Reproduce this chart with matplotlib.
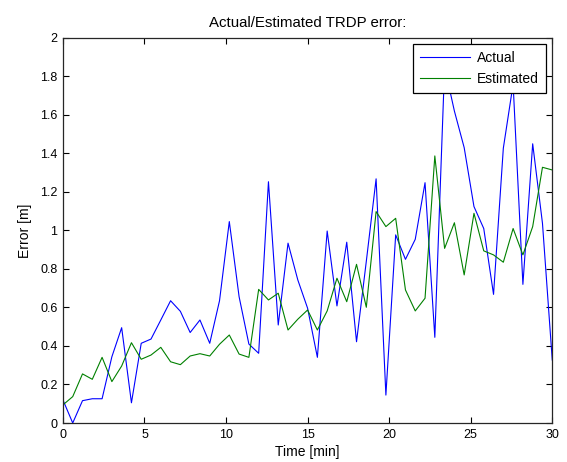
import numpy as np
import matplotlib
matplotlib.use("Agg")
import matplotlib.pyplot as plt

plt.rcParams['font.family'] = ['Liberation Sans', 'DejaVu Sans']
plt.rcParams['font.size'] = 9

# samples every 0.6 min
time_min = np.arange(51) * 0.6

actual = [0.12, 0.00, 0.116, 0.126, 0.126, 0.344, 0.495, 0.105, 0.414, 0.436,
          0.535, 0.635, 0.58, 0.47, 0.535, 0.414, 0.635, 1.046, 0.656, 0.41,
          0.362, 1.253, 0.509, 0.934, 0.743, 0.596, 0.341, 0.997, 0.608, 0.939,
          0.422, 0.84, 1.268, 0.145, 0.977, 0.85, 0.954, 1.248, 0.445, 1.85,
          1.62, 1.43, 1.124, 1.01, 0.668, 1.427, 1.76, 0.72, 1.45, 1.037,
          0.327]

estimated = [0.094, 0.137, 0.255, 0.227, 0.341, 0.215, 0.296, 0.417, 0.331, 0.353,
             0.393, 0.318, 0.303, 0.348, 0.36, 0.348, 0.409, 0.457, 0.358, 0.341,
             0.694, 0.639, 0.674, 0.483, 0.539, 0.587, 0.483, 0.582, 0.752, 0.63,
             0.824, 0.601, 1.098, 1.02, 1.063, 0.691, 0.582, 0.648, 1.387, 0.907,
             1.04, 0.769, 1.089, 0.894, 0.873, 0.835, 1.01, 0.873, 1.02, 1.328,
             1.314]

fig = plt.figure(figsize=(5.67, 4.62), dpi=100)
ax = fig.add_axes([0.111, 0.0844, 0.863, 0.8336])

ax.plot(time_min, actual, color=(0, 0, 1), lw=0.8, label='Actual')
ax.plot(time_min, estimated, color=(0, 0.5, 0), lw=0.8, label='Estimated')

ax.set_xlim(0, 30)
ax.set_ylim(0, 2)
ax.set_xticks([0, 5, 10, 15, 20, 25, 30])
ax.set_yticks(np.arange(0, 2.01, 0.2))
ax.set_yticklabels(['0', '0.2', '0.4', '0.6', '0.8', '1', '1.2', '1.4', '1.6', '1.8', '2'])
ax.tick_params(direction='in', top=True, right=True, length=4, width=0.8, pad=4)
for s in ax.spines.values():
    s.set_linewidth(0.9)
    s.set_color('#262626')

ax.set_title('Actual/Estimated TRDP error:', fontsize=10.8, pad=8)
ax.set_xlabel('Time [min]', fontsize=10, labelpad=3)
ax.set_ylabel('Error [m]', fontsize=10, labelpad=6)

leg = ax.legend(loc='upper right', fancybox=False, framealpha=1, edgecolor='black',
                fontsize=10, borderaxespad=0.45, handlelength=3.6, handletextpad=0.5,
                borderpad=0.5, labelspacing=0.5)
leg.get_frame().set_linewidth(0.9)

fig.savefig('out.png', dpi=100)
